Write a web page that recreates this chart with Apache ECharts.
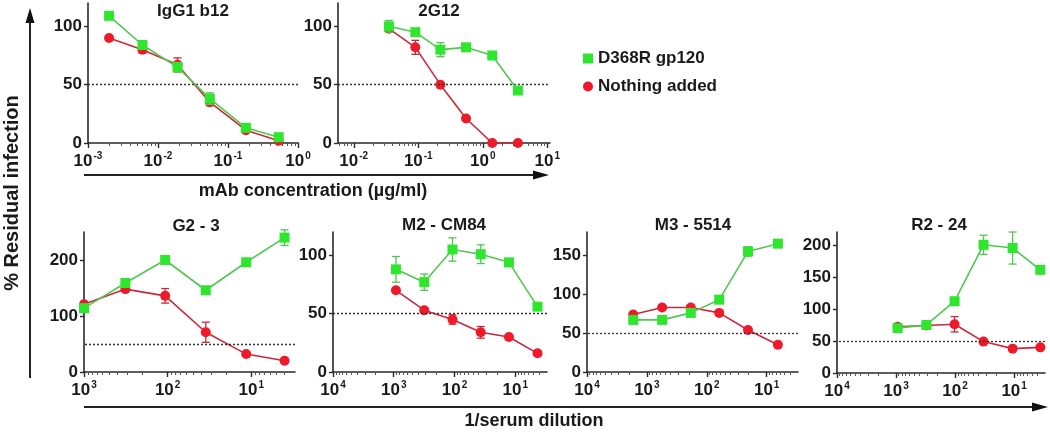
<!DOCTYPE html>
<html><head><meta charset="utf-8">
<script src="https://cdn.jsdelivr.net/npm/echarts@6/dist/echarts.min.js"></script>
<style>html,body{margin:0;padding:0;background:#fff}#c{width:1050px;height:433px}</style>
</head><body><div id="c"></div>
<script>
// ---------- DATA ----------
const seriesNames = ['D368R gp120', 'Nothing added'];
const panelTitles = ['IgG1 b12', '2G12', 'G2 - 3', 'M2 - CM84', 'M3 - 5514', 'R2 - 24'];
const xTitleTop = 'mAb concentration (µg/ml)';
const xTitleBottom = '1/serum dilution';
const yTitle = '% Residual infection';

const b12X = [0.002, 0.006, 0.019, 0.055, 0.18, 0.53];
const b12Green = [109, 84, 65, 38, 13, 5];
const b12Red = [90, 80, 67, 35, 11, 2];
const b12GreenErr = [2, 3, 4, 5, 2, 1];
const b12RedErr = [2, 3, 6, 3, 2, 1];

const g12X = [0.035, 0.09, 0.22, 0.55, 1.4, 3.5];
const g12Green = [100, 95, 80, 82, 75, 45];
const g12Red = [98, 82, 50, 21, 0, 0];
const g12GreenErr = [5, 2, 6, 2, 2, 2];
const g12RedErr = [2, 6, 1, 1, 0, 0];

const g23X = [1000, 320, 107, 35, 11.5, 4];
const g23Green = [114, 159, 200, 146, 196, 240];
const g23Red = [121, 148, 136, 71, 32, 20];
const g23GreenErr = [6, 6, 3, 3, 3, 14];
const g23RedErr = [5, 4, 13, 18, 3, 2];

const m2X = [920, 315, 108, 37, 12.7, 4.3];
const m2Green = [88, 77, 105, 101, 94, 56];
const m2Red = [70, 53, 45, 34, 30, 16];
const m2GreenErr = [11, 7, 10, 8, 2, 3];
const m2RedErr = [2, 2, 4, 5, 2, 2];

const m3X = [1690, 556, 185, 62, 20.5, 6.5];
const m3Green = [67, 67, 76, 93, 155, 165];
const m3Red = [74, 83, 83, 76, 54, 35];
const m3GreenErr = [3, 2, 4, 3, 6, 3];
const m3RedErr = [2, 2, 3, 2, 2, 2];

const r2X = [940, 306, 102, 33, 10.6, 3.6];
const r2Green = [70, 75, 112, 200, 195, 161];
const r2Red = [72, 74, 76, 49, 38, 40];
const r2GreenErr = [4, 3, 5, 15, 25, 3];
const r2RedErr = [5, 4, 12, 3, 3, 2];

const topXTicks1 = [0.001, 0.01, 0.1, 1];
const topXTicks2 = [0.01, 0.1, 1, 10];
const botXTicks3 = [1000, 100, 10];
const botXTicks = [10000, 1000, 100, 10];
const yTicks100 = [0, 50, 100];
const yTicks200 = [0, 100, 200];
const yTicks150 = [0, 50, 100, 150];
const yTicks200b = [0, 50, 100, 150, 200];
const thresholdLine = 50;

// ---------- LAYOUT ----------
const FONT = 'Liberation Sans, Arial, sans-serif';
const TXT = '#1a1a1a';
const AX = '#2a2a2a';
const GREEN_LINE = '#52c652', GREEN_SYM = '#2ee62e';
const RED_LINE = '#c82a3c', RED_SYM = '#ee1a2a';

const panels = [
  {x: b12X, g: b12Green, r: b12Red, ge: b12GreenErr, re: b12RedErr, grid: {left: 88, top: 3, width: 210, height: 140}, xmin: 0.001, xmax: 1, inv: false, xt: topXTicks1, ymax: 120, yt: yTicks100, tx: 193, ty: 11},
  {x: g12X, g: g12Green, r: g12Red, ge: g12GreenErr, re: g12RedErr, grid: {left: 338, top: 3, width: 212, height: 140}, xmin: 0.0057, xmax: 11, inv: false, xt: topXTicks2, ymax: 120, yt: yTicks100, tx: 439, ty: 11},
  {x: g23X, g: g23Green, r: g23Red, ge: g23GreenErr, re: g23RedErr, grid: {left: 84, top: 232, width: 211, height: 140}, xmin: 3, xmax: 1000, inv: true, xt: botXTicks3, ymax: 250, yt: yTicks200, tx: 196, ty: 226},
  {x: m2X, g: m2Green, r: m2Red, ge: m2GreenErr, re: m2RedErr, grid: {left: 333, top: 232, width: 214, height: 140}, xmin: 3, xmax: 10000, inv: true, xt: botXTicks, ymax: 120, yt: yTicks100, tx: 444, ty: 225},
  {x: m3X, g: m3Green, r: m3Red, ge: m3GreenErr, re: m3RedErr, grid: {left: 587, top: 232, width: 211, height: 140}, xmin: 3, xmax: 10000, inv: true, xt: botXTicks, ymax: 180, yt: yTicks150, tx: 693, ty: 225},
  {x: r2X, g: r2Green, r: r2Red, ge: r2GreenErr, re: r2RedErr, grid: {left: 837, top: 232, width: 208, height: 141}, xmin: 3, xmax: 10000, inv: true, xt: botXTicks, ymax: 220, yt: yTicks200b, tx: 939, ty: 225}
];

function minorTicks(min, max) {
  const out = [];
  for (let e = Math.floor(Math.log10(min)) - 1; e <= Math.ceil(Math.log10(max)); e++) {
    for (let k = 2; k <= 9; k++) {
      const v = k * Math.pow(10, e);
      if (v > min * 1.0001 && v < max * 0.9999) out.push(v);
    }
  }
  return out;
}

function supLabel(v) {
  const e = Math.round(Math.log10(v));
  return '{b|10}{s|' + e + '}';
}
const richLbl = {
  b: {fontSize: 17, fontWeight: 'bold', fontFamily: FONT, color: TXT, lineHeight: 20},
  s: {fontSize: 10, fontWeight: 'bold', fontFamily: FONT, color: TXT, verticalAlign: 'top', lineHeight: 20, padding: [0, 0, 0, 1]}
};

function errRender(params, api) {
  const x = api.value(0), lo = api.value(1), hi = api.value(2);
  const a = api.coord([x, lo]), b = api.coord([x, hi]);
  const w = 4;
  const style = {stroke: api.visual('color'), lineWidth: 1.3};
  return {type: 'group', children: [
    {type: 'line', shape: {x1: a[0], y1: a[1], x2: b[0], y2: b[1]}, style: style},
    {type: 'line', shape: {x1: a[0] - w, y1: a[1], x2: a[0] + w, y2: a[1]}, style: style},
    {type: 'line', shape: {x1: b[0] - w, y1: b[1], x2: b[0] + w, y2: b[1]}, style: style}
  ]};
}

const grids = [], xAxes = [], yAxes = [], series = [], graphics = [];
panels.forEach((p, i) => {
  grids.push(Object.assign({}, p.grid));
  xAxes.push({
    type: 'log', logBase: 10, gridIndex: i, min: p.xmin, max: p.xmax, inverse: p.inv, position: 'bottom',
    axisLine: {show: true, lineStyle: {color: AX, width: 1.6}},
    axisTick: {show: true, customValues: p.xt, length: 5, lineStyle: {color: AX, width: 1.4}},
    axisLabel: {show: true, customValues: p.xt, formatter: supLabel, rich: richLbl, margin: 8},
    splitLine: {show: false}, minorTick: {show: false}
  });
  xAxes.push({
    type: 'log', logBase: 10, gridIndex: i, min: p.xmin, max: p.xmax, inverse: p.inv, position: 'bottom',
    axisLine: {show: true, lineStyle: {color: 'rgba(0,0,0,0)', width: 0}},
    axisTick: {show: true, customValues: minorTicks(p.xmin, p.xmax), length: 3, lineStyle: {color: '#555', width: 1}},
    axisLabel: {show: true, customValues: minorTicks(p.xmin, p.xmax), formatter: () => ''}, splitLine: {show: false}
  });
  yAxes.push({
    type: 'value', gridIndex: i, min: 0, max: p.ymax,
    axisLine: {show: true, lineStyle: {color: AX, width: 1.6}},
    axisTick: {show: true, customValues: p.yt, length: 4, lineStyle: {color: AX, width: 1.4}},
    axisLabel: {show: true, customValues: p.yt, fontSize: 17, fontWeight: 'bold', fontFamily: FONT, color: TXT, margin: 6},
    splitLine: {show: false}
  });
  const xi = i * 2;
  series.push({
    type: 'custom', name: 'errRed' + i, xAxisIndex: xi, yAxisIndex: i, renderItem: errRender,
    itemStyle: {color: RED_LINE}, encode: {x: 0, y: [1, 2]}, z: 3,
    data: p.x.map((x, k) => [x, p.r[k] - p.re[k], p.r[k] + p.re[k]])
  });
  series.push({
    type: 'line', name: seriesNames[1], xAxisIndex: xi, yAxisIndex: i,
    data: p.x.map((x, k) => [x, p.r[k]]),
    symbol: 'circle', symbolSize: 10, z: 4,
    lineStyle: {color: RED_LINE, width: 1.6}, itemStyle: {color: RED_SYM},
    markLine: {silent: true, symbol: 'none', label: {show: false},
      lineStyle: {type: [2, 2], color: '#333', width: 1.3}, data: [{yAxis: thresholdLine}]}
  });
  series.push({
    type: 'custom', name: 'errGreen' + i, xAxisIndex: xi, yAxisIndex: i, renderItem: errRender,
    itemStyle: {color: GREEN_LINE}, encode: {x: 0, y: [1, 2]}, z: 5,
    data: p.x.map((x, k) => [x, p.g[k] - p.ge[k], p.g[k] + p.ge[k]])
  });
  series.push({
    type: 'line', name: seriesNames[0], xAxisIndex: xi, yAxisIndex: i,
    data: p.x.map((x, k) => [x, p.g[k]]),
    symbol: 'rect', symbolSize: 10, z: 6,
    lineStyle: {color: GREEN_LINE, width: 1.6}, itemStyle: {color: GREEN_SYM}
  });
  graphics.push({type: 'text', x: p.tx, y: p.ty, style: {text: panelTitles[i], font: 'bold 17px ' + FONT, fill: TXT, textAlign: 'center', textVerticalAlign: 'middle'}});
});

// Big axes with arrows
graphics.push(
  {type: 'line', shape: {x1: 30, y1: 20, x2: 30, y2: 378}, style: {stroke: '#222', lineWidth: 2}},
  {type: 'polygon', shape: {points: [[30, 8], [25.5, 23], [34.5, 23]]}, style: {fill: '#111'}},
  {type: 'line', shape: {x1: 84, y1: 175, x2: 536, y2: 175}, style: {stroke: '#222', lineWidth: 2}},
  {type: 'polygon', shape: {points: [[549, 175], [533, 170.5], [533, 179.5]]}, style: {fill: '#111'}},
  {type: 'line', shape: {x1: 84, y1: 407, x2: 1034, y2: 407}, style: {stroke: '#222', lineWidth: 2}},
  {type: 'polygon', shape: {points: [[1048, 407], [1032, 402.5], [1032, 411.5]]}, style: {fill: '#111'}},
  {type: 'text', x: 12, y: 193, rotation: Math.PI / 2, style: {text: yTitle, font: 'bold 20px ' + FONT, fill: TXT, textAlign: 'center', textVerticalAlign: 'middle'}},
  {type: 'text', x: 313, y: 191, style: {text: xTitleTop, font: 'bold 18px ' + FONT, fill: TXT, textAlign: 'center', textVerticalAlign: 'middle'}},
  {type: 'text', x: 534, y: 421, style: {text: xTitleBottom, font: 'bold 18px ' + FONT, fill: TXT, textAlign: 'center', textVerticalAlign: 'middle'}}
);

const chart = echarts.init(document.getElementById('c'), null, {renderer: 'canvas'});
chart.setOption({
  animation: false,
  backgroundColor: '#fff',
  textStyle: {fontFamily: FONT},
  legend: {
    data: [{name: seriesNames[0], icon: 'rect'}, {name: seriesNames[1], icon: 'circle'}],
    orient: 'vertical', left: 578, top: 45, itemWidth: 10, itemHeight: 10, itemGap: 11,
    textStyle: {fontSize: 17, fontWeight: 'bold', fontFamily: FONT, color: TXT},
    selectedMode: false
  },
  grid: grids, xAxis: xAxes, yAxis: yAxes, series: series, graphic: graphics
});
</script>
</body></html>
